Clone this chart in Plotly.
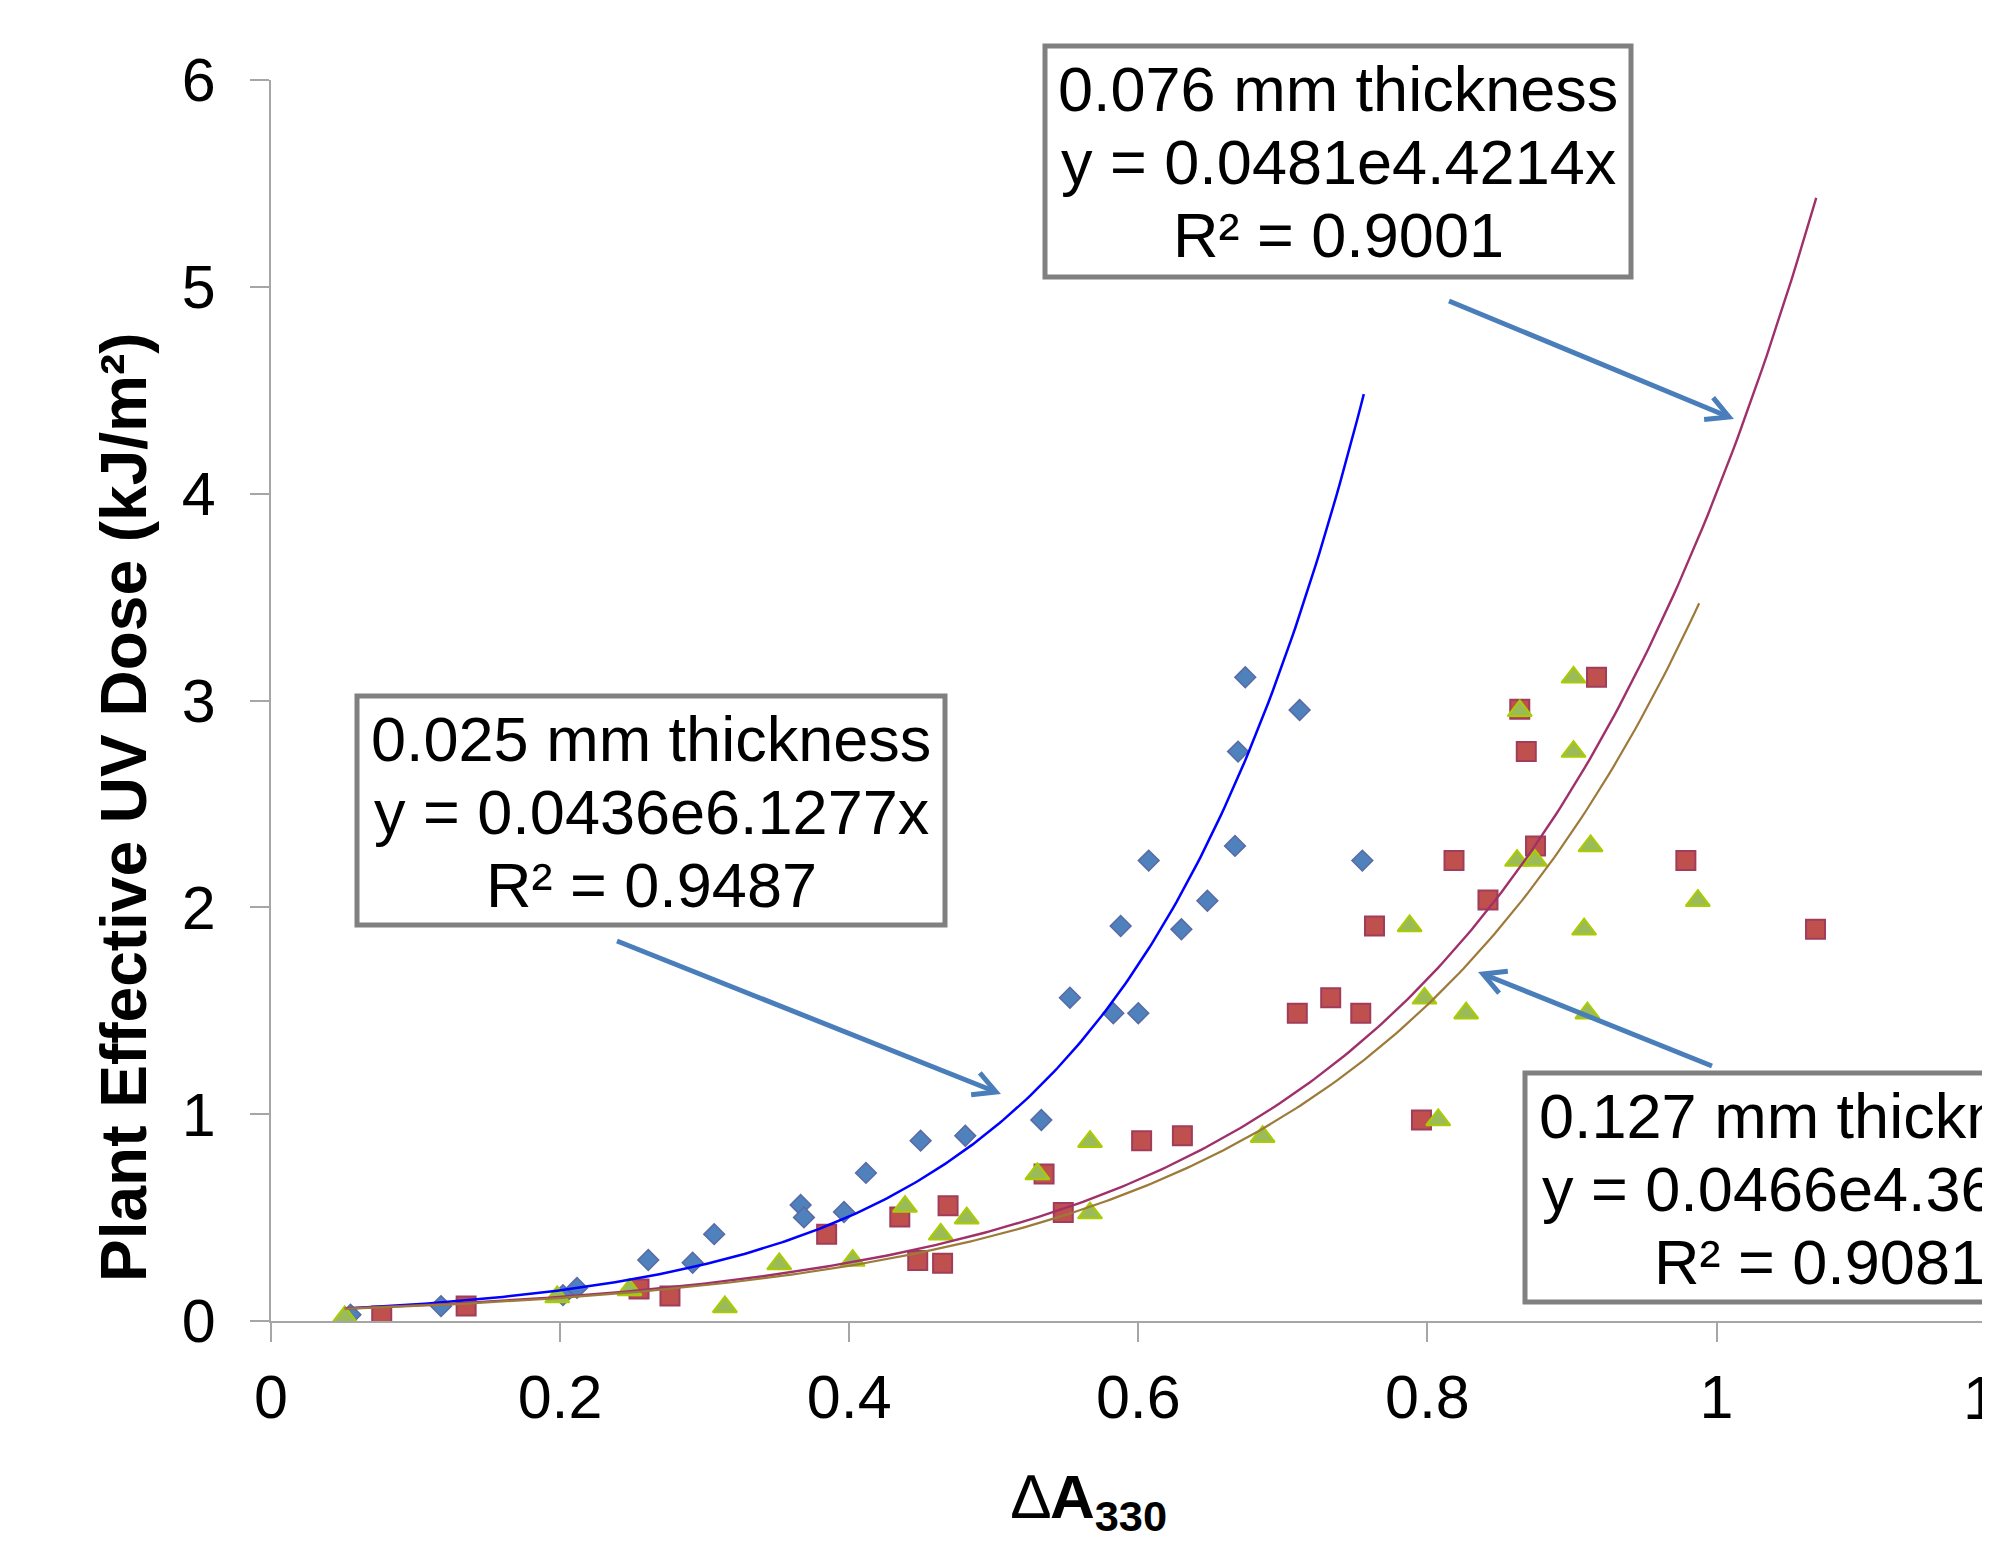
import numpy as np
import plotly.graph_objects as go

# ---------------- data ----------------
# 0.025 mm thickness (blue diamonds)
x_025 = [0.055, 0.1176, 0.202, 0.2117, 0.261, 0.2917, 0.3066, 0.3664, 0.3687, 0.3964,
         0.4116, 0.4494, 0.4803, 0.5329, 0.5527, 0.5827, 0.5878, 0.600, 0.6072, 0.6298,
         0.6478, 0.6669, 0.669, 0.674, 0.7116, 0.755]
y_025 = [0.03, 0.072, 0.125, 0.16, 0.295, 0.282, 0.42, 0.561, 0.501, 0.527,
         0.716, 0.872, 0.896, 0.972, 1.563, 1.488, 1.91, 1.488, 2.226, 1.894,
         2.032, 2.297, 2.753, 3.112, 2.954, 2.226]

# 0.076 mm thickness (red squares)
x_076 = [0.0766, 0.135, 0.2546, 0.276, 0.3844, 0.435, 0.4474, 0.4646, 0.4684, 0.5348,
         0.5481, 0.6023, 0.6305, 0.710, 0.7331, 0.7539, 0.7634, 0.7959, 0.8184, 0.8419,
         0.8639, 0.8684, 0.8748, 0.917, 0.9788, 1.0685]
y_076 = [0.024, 0.072, 0.155, 0.121, 0.42, 0.503, 0.292, 0.279, 0.557, 0.711,
         0.524, 0.872, 0.896, 1.488, 1.563, 1.488, 1.91, 0.972, 2.226, 2.036,
         2.958, 2.753, 2.297, 3.112, 2.226, 1.894]

# 0.127 mm thickness (green triangles)
x_127 = [0.051, 0.198, 0.248, 0.314, 0.3516, 0.4024, 0.4386, 0.4633, 0.4813, 0.5302,
         0.5666, 0.5666, 0.686, 0.7877, 0.798, 0.8075, 0.8268, 0.862, 0.8639, 0.8745,
         0.9129, 0.9011, 0.9011, 0.9084, 0.9107, 0.9871]
y_127 = [0.02, 0.116, 0.15, 0.068, 0.276, 0.292, 0.553, 0.419, 0.497, 0.711,
         0.522, 0.867, 0.891, 1.91, 1.56, 0.972, 1.488, 2.226, 2.95, 2.226,
         2.297, 3.112, 2.753, 1.894, 1.488, 2.032]

# exponential trendlines y = a * exp(b x), as printed on the chart
fit_025 = (0.0436, 6.1277)
fit_076 = (0.0481, 4.4214)
fit_127 = (0.0466, 4.3628)
span_025 = (0.052, 0.756)
span_076 = (0.051, 1.069)
span_127 = (0.051, 0.988)

label_025 = ["0.025 mm thickness", "y = 0.0436e6.1277x", "R² = 0.9487"]
label_076 = ["0.076 mm thickness", "y = 0.0481e4.4214x", "R² = 0.9001"]
label_127 = ["0.127 mm thickness", "y = 0.0466e4.3628x", "R² = 0.9081"]

x_tick_vals = [0, 0.2, 0.4, 0.6, 0.8, 1, 1.2]
y_tick_vals = [0, 1, 2, 3, 4, 5, 6]

# ---------------- layout geometry (page pixels) ----------------
PAGE_W, PAGE_H = 1990, 1568
BODY = 8                                  # default body margin of the html page
PLOT_L, PLOT_R, PLOT_T, PLOT_B = 271, 1990, 80, 1321
W, H = PAGE_W - BODY, PAGE_H - BODY
ML, MT = PLOT_L - BODY, PLOT_T - BODY
MR, MB = PAGE_W - PLOT_R, PAGE_H - PLOT_B
PW, PH = PLOT_R - PLOT_L, PLOT_B - PLOT_T
X_UNIT = 1445.5                           # pixels per 1.0 on x
XMAX = PW / X_UNIT
FONT = "Arial, 'Liberation Sans', sans-serif"


def px_x(p):
    return (p - PLOT_L) / PW


def px_y(p):
    return (PLOT_B - p) / PH


fig = go.Figure()

fig.add_trace(go.Scatter(x=x_025, y=y_025, mode="markers", name="0.025 mm",
                         marker=dict(symbol="diamond", size=16, color="#4F81BD",
                                     line=dict(color="#5A6AA2", width=1.5))))
fig.add_trace(go.Scatter(x=x_076, y=y_076, mode="markers", name="0.076 mm",
                         marker=dict(symbol="square", size=19, color="#C0504D",
                                     line=dict(color="#A03C5C", width=2))))
fig.add_trace(go.Scatter(x=x_127, y=y_127, mode="markers", name="0.127 mm",
                         marker=dict(symbol="triangle-up", size=21, color="#9BBB59",
                                     line=dict(color="#AACC00", width=2))))

for (a, b), (x0, x1), col, w in [(fit_025, span_025, "#0000FF", 2.5),
                                 (fit_076, span_076, "#A0306A", 2.4),
                                 (fit_127, span_127, "#9C7A3A", 2.2)]:
    xs = np.linspace(x0, x1, 300)
    fig.add_trace(go.Scatter(x=xs, y=a * np.exp(b * xs), mode="lines",
                             line=dict(color=col, width=w), hoverinfo="skip"))

shapes = []
annotations = []

# text boxes
boxes = [(label_025, 357, 696, 588, 229),
         (label_076, 1045, 46, 586, 231),
         (label_127, 1525, 1073, 588, 229)]
for lines, L, T, BW, BH in boxes:
    shapes.append(dict(type="rect", xref="paper", yref="paper",
                       x0=px_x(L), x1=px_x(L + BW), y0=px_y(T), y1=px_y(T + BH),
                       line=dict(color="#808080", width=5), fillcolor="white",
                       layer="above"))
    for i, t in enumerate(lines):
        annotations.append(dict(text=t, xref="paper", yref="paper",
                                x=px_x(L + BW / 2), y=px_y(T + 43 + 73 * i),
                                xanchor="center", yanchor="middle", showarrow=False,
                                font=dict(family=FONT, size=63, color="black")))

# arrows (tail, tip) drawn as line + open V head
ARROW_COL, ARROW_W, HEAD_LEN, HEAD_ANG = "#4A7EBB", 5, 25, np.radians(28)
arrows = [((617, 941), (996, 1092)),
          ((1449, 301), (1729, 417)),
          ((1712, 1066), (1483, 974))]
for (tx, ty), (hx, hy) in arrows:
    d = np.array([hx - tx, hy - ty], dtype=float)
    d /= np.hypot(*d)
    end = np.array([hx, hy]) - d * 2
    shapes.append(dict(type="line", xref="paper", yref="paper",
                       x0=px_x(tx), y0=px_y(ty), x1=px_x(end[0]), y1=px_y(end[1]),
                       line=dict(color=ARROW_COL, width=ARROW_W), layer="above"))
    pts = []
    for s in (1, -1):
        c, sn = np.cos(s * HEAD_ANG), np.sin(s * HEAD_ANG)
        back = -d
        r = np.array([back[0] * c - back[1] * sn, back[0] * sn + back[1] * c])
        pts.append(np.array([hx, hy]) + r * HEAD_LEN)
    path = "M{:.5f},{:.5f} L{:.5f},{:.5f} L{:.5f},{:.5f}".format(
        px_x(pts[0][0]), px_y(pts[0][1]), px_x(hx), px_y(hy), px_x(pts[1][0]), px_y(pts[1][1]))
    shapes.append(dict(type="path", xref="paper", yref="paper", path=path,
                       line=dict(color=ARROW_COL, width=ARROW_W), layer="above"))

# axis titles
annotations.append(dict(text="<b>Plant Effective UV Dose (kJ/m²)</b>",
                        xref="paper", yref="paper", x=px_x(124), y=px_y(807),
                        textangle=-90, showarrow=False, xanchor="center", yanchor="middle",
                        font=dict(family=FONT, size=64, color="black")))
annotations.append(dict(text="∆<b>A<sub>330</sub></b>",
                        xref="paper", yref="paper", x=px_x(1089), y=px_y(1501),
                        showarrow=False, xanchor="center", yanchor="middle",
                        font=dict(family=FONT, size=62, color="black")))

# the partially visible last x tick label (beyond the right edge)
annotations.append(dict(text=str(x_tick_vals[-1]), xref="paper", yref="paper",
                        x=x_tick_vals[-1] / XMAX, y=px_y(1362),
                        showarrow=False, xanchor="center", yanchor="top",
                        font=dict(family=FONT, size=61, color="black")))

axis_common = dict(showgrid=False, zeroline=False, showline=True,
                   linecolor="#A6A6A6", linewidth=2, ticks="outside",
                   ticklen=19, tickwidth=1.5, tickcolor="#A6A6A6",
                   tickfont=dict(family=FONT, size=61, color="black"))

fig.update_layout(
    width=W, height=H,
    margin=dict(l=ML, r=MR, t=MT, b=MB, pad=0),
    paper_bgcolor="white", plot_bgcolor="white",
    showlegend=False,
    xaxis=dict(range=[0, XMAX], tickvals=x_tick_vals[:-1],
               ticklabelstandoff=3, **axis_common),
    yaxis=dict(range=[0, 6], tickvals=y_tick_vals,
               ticklabelstandoff=22, **axis_common),
    shapes=shapes,
    annotations=annotations,
)

fig.write_html("out.html", config={"displayModeBar": False})
